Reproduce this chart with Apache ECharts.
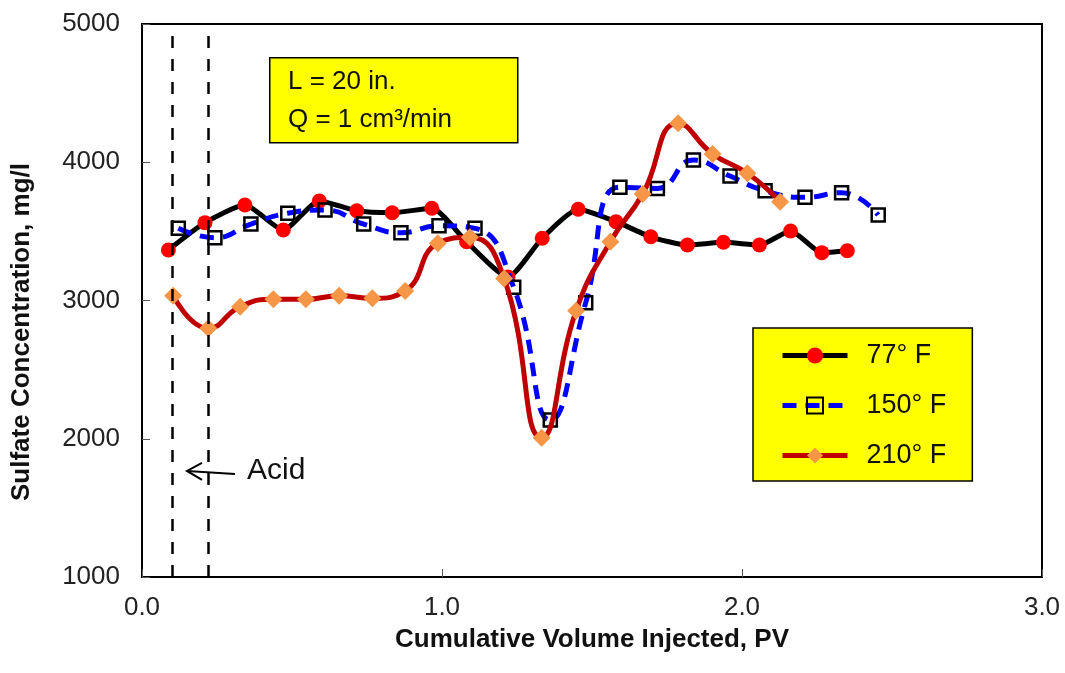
<!DOCTYPE html>
<html><head><meta charset="utf-8">
<script src="https://cdn.jsdelivr.net/npm/echarts@6/dist/echarts.min.js"></script>
<style>html,body{margin:0;padding:0;background:#fff}#c{width:1065px;height:673px}</style>
</head><body><div id="c"></div>
<script>
// Series: 77° F
const pv77 = [0.088,0.210,0.343,0.471,0.591,0.716,0.834,0.966,1.082,1.220,1.334,1.454,1.580,1.696,1.818,1.938,2.058,2.162,2.266,2.351];
const sulfate77 = [3365,3563,3691,3510,3720,3649,3635,3667,3425,3170,3450,3660,3570,3461,3401,3421,3401,3503,3346,3360];
// Series: 150° F
const pv150 = [0.121,0.243,0.363,0.486,0.610,0.739,0.863,0.990,1.110,1.239,1.361,1.479,1.593,1.718,1.838,1.960,2.077,2.210,2.332,2.454];
const sulfate150 = [3522,3454,3553,3631,3654,3553,3490,3541,3522,3095,2136,2984,3819,3811,4016,3900,3794,3746,3780,3618];
// Series: 210° F
const pv210 = [0.104,0.221,0.327,0.438,0.546,0.657,0.768,0.877,0.986,1.093,1.207,1.332,1.447,1.561,1.669,1.787,1.902,2.018,2.127];
const sulfate210 = [3035,2799,2955,3009,3009,3035,3016,3069,3414,3457,3160,2008,2926,3425,3770,4282,4060,3920,3715];
// Acid injection window (PV)
const acidMarks = [0.098, 0.221];
// Annotation anchor (data coords): arrow tip and tail
const acidArrowTip = [0.15, 1767];
const acidArrowTail = [0.31, 1745];
const seriesNames = ['77° F', '150° F', '210° F'];
const xTicks = [0, 1, 2, 3];
const yTicks = [1000, 2000, 3000, 4000, 5000];

const FONT = 'Liberation Sans, Arial, sans-serif';
const pairs = (xs, ys) => xs.map((x, i) => [x, ys[i]]);

const chart = echarts.init(document.getElementById('c'), null, {renderer: 'canvas'});
chart.setOption({
  animation: false,
  backgroundColor: '#fff',
  grid: {left: 142, right: 23, top: 24, bottom: 96, show: true, borderColor: '#000', borderWidth: 2, backgroundColor: 'transparent'},
  xAxis: {
    type: 'value', min: xTicks[0], max: xTicks[xTicks.length - 1], interval: 1,
    axisLine: {show: true, onZero: false, lineStyle: {color: '#000', width: 2}},
    axisTick: {show: true, inside: true, length: 8, lineStyle: {color: '#555'}},
    splitLine: {show: false},
    axisLabel: {fontFamily: FONT, fontSize: 26, color: '#222', margin: 18, formatter: v => v.toFixed(1)},
    name: 'Cumulative Volume Injected, PV', nameLocation: 'middle', nameGap: 50,
    nameTextStyle: {fontFamily: FONT, fontSize: 26, fontWeight: 'bold', color: '#111'}
  },
  yAxis: {
    type: 'value', min: yTicks[0], max: yTicks[yTicks.length - 1], interval: 1000,
    axisLine: {show: true, onZero: false, lineStyle: {color: '#000', width: 2}},
    axisTick: {show: true, inside: true, length: 8, lineStyle: {color: '#555'}},
    splitLine: {show: false},
    axisLabel: {fontFamily: FONT, fontSize: 26, color: '#222', margin: 22, formatter: v => String(v)}
  },
  legend: {
    left: 753, top: 328, orient: 'vertical',
    backgroundColor: '#FFFF00', borderColor: '#000', borderWidth: 1.5,
    padding: [14, 26, 12, 27], itemWidth: 65, itemHeight: 20, itemGap: 23,
    lineStyle: {width: 5},
    textStyle: {fontFamily: FONT, fontSize: 27, color: '#111', padding: [0, 0, 0, 14]},
    data: seriesNames
  },
  series: [
    {
      name: seriesNames[0], type: 'line', data: pairs(pv77, sulfate77), smooth: 0.2,
      symbol: 'circle', symbolSize: 15,
      lineStyle: {color: '#000', width: 5},
      itemStyle: {color: '#FF0000'}, z: 2,
      markLine: {
        silent: true, symbol: ['none', 'none'], label: {show: false},
        lineStyle: {color: '#000', width: 2.5, type: [12, 11]},
        data: acidMarks.map(v => ({xAxis: v}))
      }
    },
    {
      name: seriesNames[1], type: 'line', data: pairs(pv150, sulfate150), smooth: 0.5,
      symbol: 'rect', symbolSize: 13,
      lineStyle: {color: '#0000FF', width: 5, type: [14, 9]},
      itemStyle: {color: 'rgba(255,255,255,0)', borderColor: '#000', borderWidth: 2.5}, z: 3
    },
    {
      name: seriesNames[2], type: 'line', data: pairs(pv210, sulfate210), smooth: 0.5,
      symbol: 'diamond', symbolSize: 18,
      lineStyle: {color: '#C00000', width: 5},
      itemStyle: {color: '#F79646'}, z: 4
    }
  ]
});

const tip = chart.convertToPixel({gridIndex: 0}, acidArrowTip);
const tail = chart.convertToPixel({gridIndex: 0}, acidArrowTail);
chart.setOption({
  graphic: [
    {type: 'rect', left: 269, top: 57, z: 10,
     shape: {width: 248, height: 85}, style: {fill: '#FFFF00', stroke: '#000', lineWidth: 1.5}},
    {type: 'text', left: 288, top: 69, z: 11,
     style: {text: 'L = 20 in.', font: '26px ' + FONT, fill: '#111'}},
    {type: 'text', left: 288, top: 107, z: 11,
     style: {text: 'Q = 1 cm³/min', font: '26px ' + FONT, fill: '#111'}},
    {type: 'text', x: 22, y: 332, rotation: Math.PI / 2, z: 11,
     style: {text: 'Sulfate Concentration, mg/l', font: 'bold 26px ' + FONT, fill: '#111', align: 'center', verticalAlign: 'middle'}},
    {type: 'polyline', z: 11, shape: {points: [tail, tip]}, style: {stroke: '#000', lineWidth: 2}},
    {type: 'polyline', z: 11, shape: {points: [[tip[0] + 15, tip[1] - 8], tip, [tip[0] + 15, tip[1] + 9]]}, style: {stroke: '#000', lineWidth: 2, fill: null}},
    {type: 'text', x: tail[0] + 12, y: tip[1], z: 11,
     style: {text: 'Acid', font: '30px ' + FONT, fill: '#111', verticalAlign: 'middle'}}
  ]
});
</script></body></html>
